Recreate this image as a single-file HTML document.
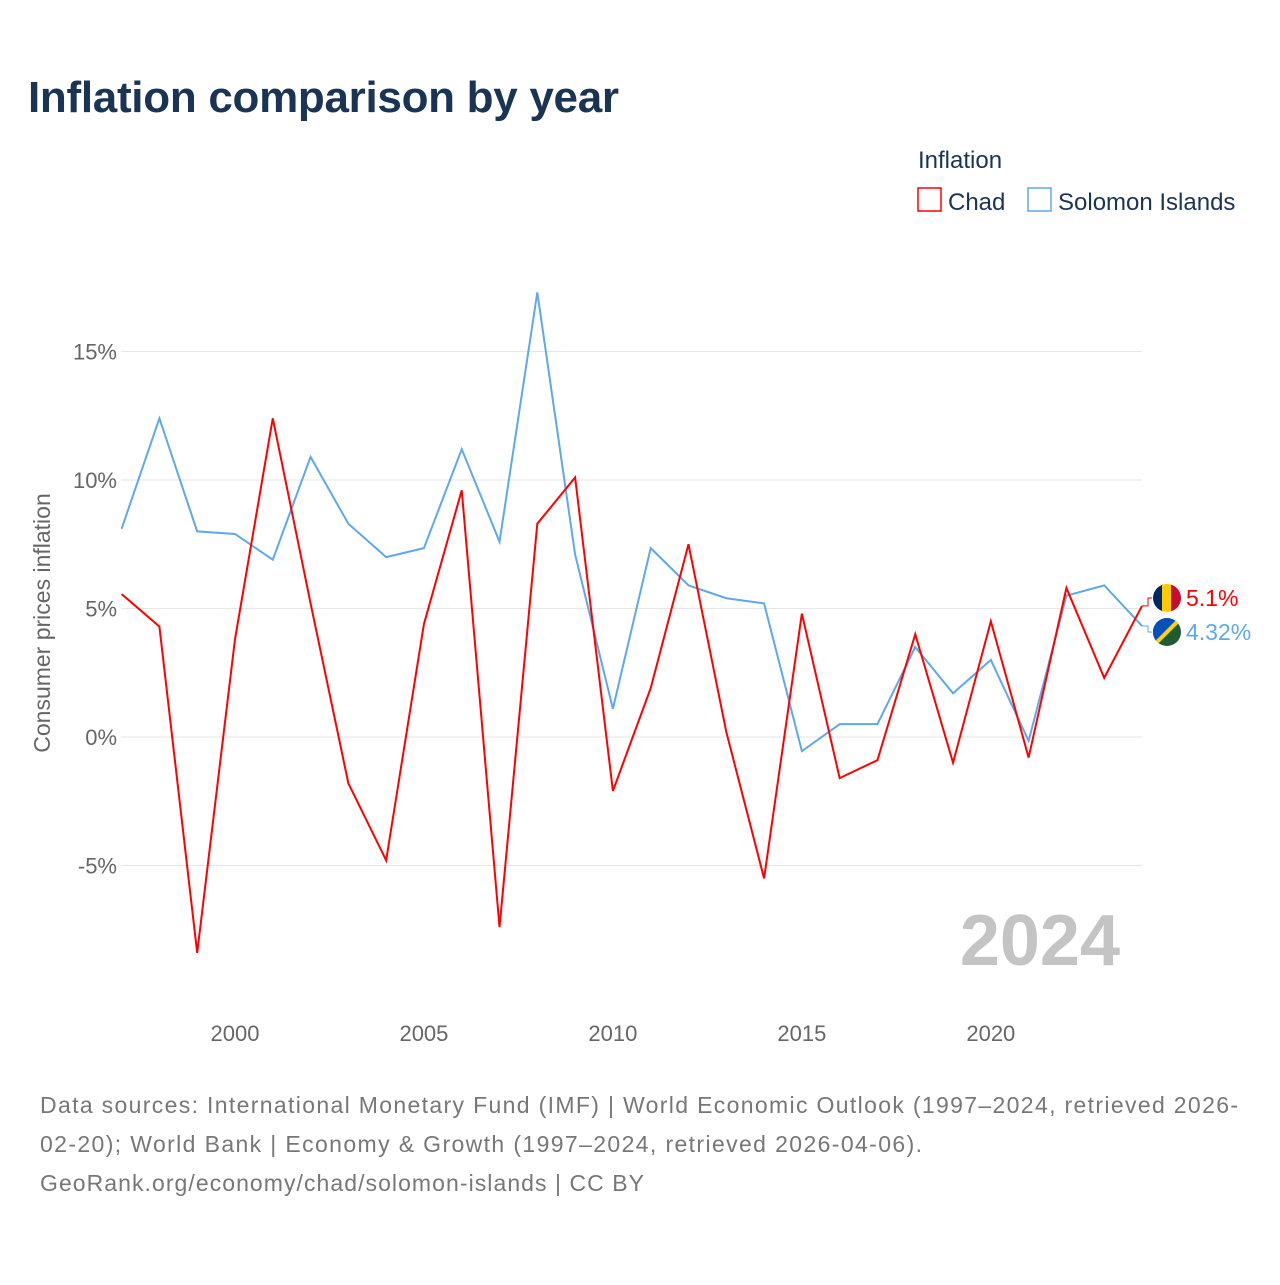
<!DOCTYPE html>
<html><head><meta charset="utf-8"><style>
body{margin:0;width:1280px;height:1280px;background:#fff;font-family:"Liberation Sans",sans-serif;overflow:hidden}
</style></head><body>
<svg id="chart" width="1280" height="1280" xmlns="http://www.w3.org/2000/svg" font-family="Liberation Sans, sans-serif">
<text x="28" y="112" font-size="44" font-weight="bold" fill="#1a3456" textLength="591">Inflation comparison by year</text>
<text x="918" y="168" font-size="24" fill="#1a3456">Inflation</text>
<rect x="918" y="188" width="23" height="23" fill="none" stroke="#ff0000" stroke-width="1.5"/>
<text x="948" y="210" font-size="24" fill="#1a3456">Chad</text>
<rect x="1028" y="188" width="23" height="23" fill="none" stroke="#5ea8ec" stroke-width="1.5"/>
<text x="1058" y="210" font-size="24" fill="#1a3456">Solomon Islands</text>
<text transform="translate(50,623) rotate(-90)" text-anchor="middle" font-size="23" fill="#666">Consumer prices inflation</text>
<text x="1120" y="965" text-anchor="end" font-size="72" font-weight="bold" fill="#c4c4c4">2024</text>
<g id="grid"></g><g id="xt"></g><g id="lines"></g>
<text font-size="23" fill="#777"><tspan x="40" y="1113" textLength="1198">Data sources: International Monetary Fund (IMF) | World Economic Outlook (1997–2024, retrieved 2026-</tspan><tspan x="40" y="1152" textLength="882">02-20); World Bank | Economy &amp; Growth (1997–2024, retrieved 2026-04-06).</tspan><tspan x="40" y="1191" textLength="604">GeoRank.org/economy/chad/solomon-islands | CC BY</tspan></text>
</svg>
<script>
const years=[1997,1998,1999,2000,2001,2002,2003,2004,2005,2006,2007,2008,2009,2010,2011,2012,2013,2014,2015,2016,2017,2018,2019,2020,2021,2022,2023,2024];
const chad=[5.56,4.3,-8.4,3.8,12.4,5.2,-1.8,-4.8,4.4,9.6,-7.4,8.3,10.1,-2.1,1.9,7.5,0.2,-5.5,4.8,-1.6,-0.9,4.0,-1.0,4.5,-0.8,5.8,2.3,5.1];
const solomon=[8.1,12.4,8.0,7.9,6.9,10.9,8.3,7.0,7.35,11.2,7.6,17.3,7.1,1.1,7.35,5.9,5.4,5.2,-0.55,0.5,0.5,3.5,1.7,3.0,-0.15,5.5,5.9,4.32];
const yTicks=[-5,0,5,10,15];
const yTickLabels=["-5%","0%","5%","10%","15%"];
const xTicks=[2000,2005,2010,2015,2020];
const NS="http://www.w3.org/2000/svg";
const X=y=>121.6+(y-1997)*(1142-121.6)/27;
const Y=v=>737-v*25.7;
function mk(t,a,p){const e=document.createElementNS(NS,t);for(const k in a)e.setAttribute(k,a[k]);p.appendChild(e);return e;}
const g=document.getElementById('grid');
yTicks.forEach((v,i)=>{
 const l=mk('line',{x1:121,x2:1142,y1:Y(v),y2:Y(v),stroke:'#e6e6e6','stroke-width':1},g);
 
 
 const t=mk('text',{x:117,y:Y(v)+8,'text-anchor':'end','font-size':22,fill:'#666'},g);
 t.textContent=yTickLabels[i];
 
 
});
const xt=document.getElementById('xt');
xTicks.forEach(v=>{
 const t=mk('text',{x:X(v),y:1041,'text-anchor':'middle','font-size':22,fill:'#666'},xt);
 t.textContent=v;
 
 
});
const L=document.getElementById('lines');
function series(vals,color,name){
 const p=mk('polyline',{points:vals.map((v,i)=>X(years[i])+','+Y(v)).join(' '),fill:'none',stroke:color,'stroke-width':2,'stroke-linejoin':'miter'},L);
 
 
}
series(solomon,'#5ea8ec','solomon-line');
series(chad,'#ff0000','chad-line');
const lc=chad[chad.length-1], ls=solomon[solomon.length-1];
const yc=Math.min(Y(lc),598), ys=Math.max(Y(ls),632);
mk('path',{d:`M1142 ${Y(lc)} h6 V${yc} h4`,fill:'none',stroke:'#ff0000','stroke-width':1},L);
mk('path',{d:`M1142 ${Y(ls)} h6 V${ys} h4`,fill:'none',stroke:'#5ea8ec','stroke-width':1},L);
const f1=mk('g',{},L);
mk('clipPath',{id:'c1'},f1);mk('circle',{cx:1167,cy:yc,r:14},document.getElementById('c1'));
const gg=mk('g',{'clip-path':'url(#c1)'},f1);
mk('rect',{x:1153,y:yc-14,width:10,height:28,fill:'#002664'},gg);
mk('rect',{x:1162,y:yc-14,width:10,height:28,fill:'#fecb00'},gg);
mk('rect',{x:1171,y:yc-14,width:10,height:28,fill:'#c60c30'},gg);
const f2=mk('g',{},L);
mk('clipPath',{id:'c2'},f2);mk('circle',{cx:1167,cy:ys,r:14},document.getElementById('c2'));
const g2=mk('g',{'clip-path':'url(#c2)'},f2);
mk('rect',{x:1153,y:ys-14,width:28,height:28,fill:'#215b33'},g2);
mk('polygon',{points:`1153,${ys-14} 1181,${ys-14} 1153,${ys+14}`,fill:'#0051ba'},g2);
mk('line',{x1:1181,y1:ys-14,x2:1153,y2:ys+14,stroke:'#fcd116','stroke-width':4},g2);
const t1=mk('text',{x:1186,y:yc+8,'font-size':23,fill:'#ff0000'},L);t1.textContent=lc+'%';

const t2=mk('text',{x:1186,y:ys+8,'font-size':23,fill:'#5ea8ec'},L);t2.textContent=ls+'%';

</script>
</body></html>
